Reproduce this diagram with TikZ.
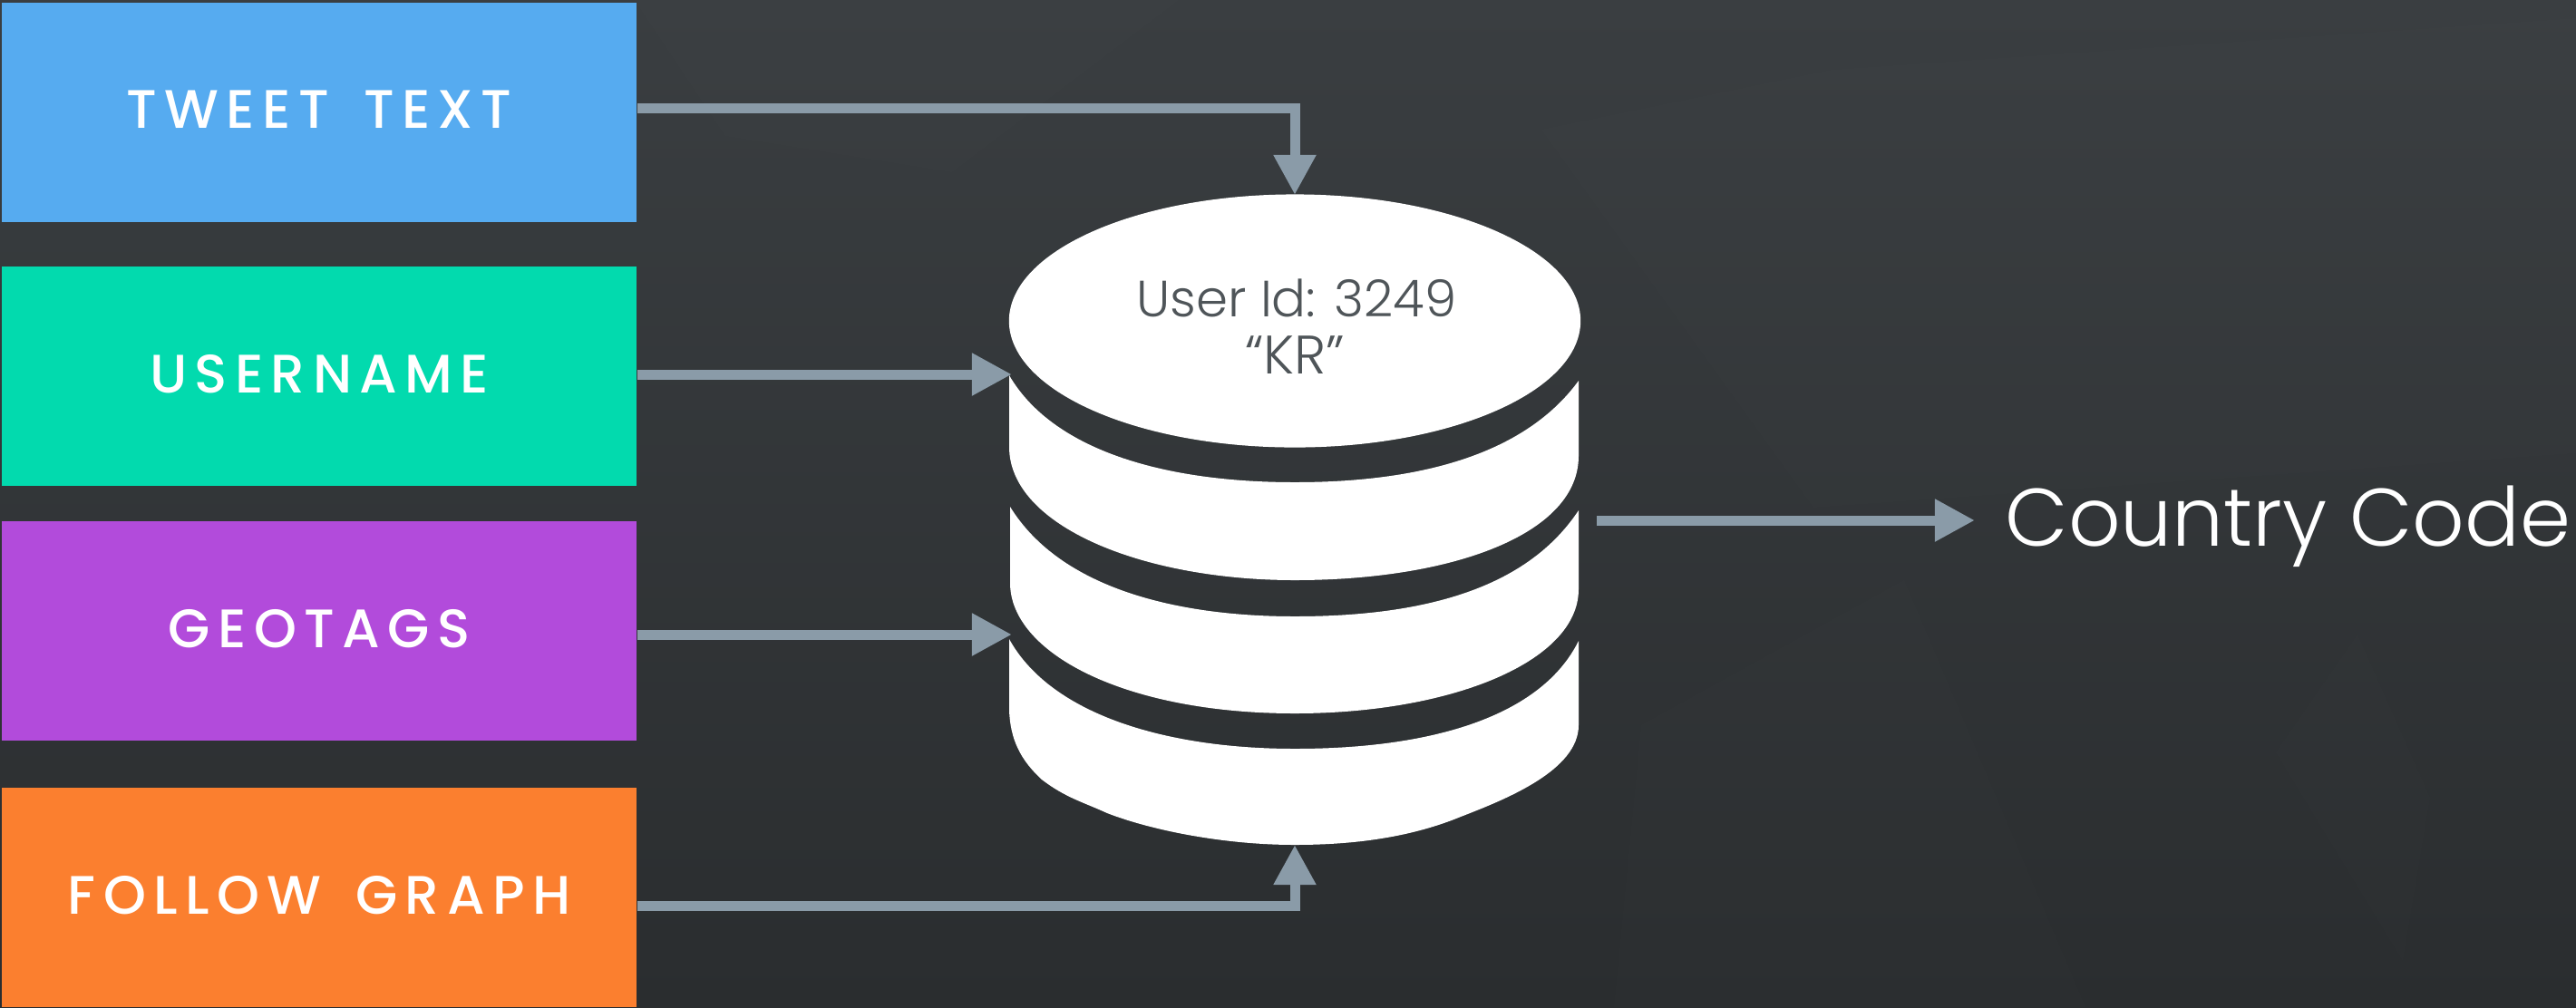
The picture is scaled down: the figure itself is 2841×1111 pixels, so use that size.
\documentclass[tikz,border=0pt]{standalone}
\usepackage{fontspec}
\usetikzlibrary{arrows.meta,shapes.geometric}
\setmainfont{Poppins}
\newfontfamily\thinfont{Poppins Light}
\newfontfamily\capsfont[LetterSpace=14,WordSpace=1.6]{Poppins Medium}
\definecolor{tweetblue}{HTML}{56ABF0}
\definecolor{usergreen}{HTML}{02DAAE}
\definecolor{geopurple}{HTML}{B24BDB}
\definecolor{followorange}{HTML}{FB7F2F}
\definecolor{flowgrey}{HTML}{8A9BA8}
\definecolor{idgrey}{HTML}{4F5559}
\definecolor{slatetop}{HTML}{3A3E41}
\definecolor{slatelow}{HTML}{2A2D2F}
\tikzset{
  source/.style={minimum width=7cm,minimum height=2.42cm,inner sep=0,text=white,text depth=0.06cm,
    font=\capsfont\fontsize{17}{17}\selectfont},
  flow/.style={draw=flowgrey,line width=0.11cm,-{Triangle[length=0.44cm,width=0.44cm,flowgrey]}},
  disk/.style={fill=white,draw=none},
  facet/.style={fill=white,fill opacity=0.008,draw=none}
}
\begin{document}
\begin{tikzpicture}[x=0.01cm,y=-0.01cm]
\useasboundingbox (0,0) rectangle (2841,1111);

% Background
\shade[top color=slatetop,bottom color=slatelow] (0,0) rectangle (2841,1111);
\fill[facet] (1700,143) -- (2020,77) -- (2841,20) -- (2841,500) -- (2000,560) -- cycle;
\fill[facet] (700,0) -- (1300,0) -- (1050,190) -- (800,150) -- cycle;
\fill[facet] (2510,830) -- (2650,1060) -- (2680,880) -- (2600,700) -- cycle;
\fill[facet] (1780,1111) -- (1810,800) -- (2100,640) -- (2300,1111) -- cycle;

% Source boxes
\node[source,fill=tweetblue] (tweet) at (352,124) {TWEET TEXT};
\node[source,fill=usergreen] (username) at (352,415) {USERNAME};
\node[source,fill=geopurple] (geotags) at (352,696) {GEOTAGS};
\node[source,fill=followorange] (follow) at (352,990) {FOLLOW GRAPH};

% Database
\draw[disk] (1113,705) -- (1113,783) .. controls (1114,815) and (1125,838) .. (1149,860)
  .. controls (1175,880) and (1195,885) .. (1221,897)
  .. controls (1270,916) and (1350,932) .. (1428,932)
  .. controls (1500,932) and (1560,922) .. (1611,901)
  .. controls (1660,882) and (1741,850) .. (1741,800) -- (1741,707)
  .. controls (1700,790) and (1580,826) .. (1428,826)
  .. controls (1290,826) and (1160,790) .. (1113,705) -- cycle;
\draw[disk] (1114,559) -- (1114,643) .. controls (1114,720) and (1240,787) .. (1428,787)
  .. controls (1600,787) and (1741,730) .. (1741,650) -- (1741,563)
  .. controls (1690,640) and (1590,680) .. (1428,680)
  .. controls (1300,680) and (1170,650) .. (1114,559) -- cycle;
\draw[disk] (1113,414) -- (1113,493) .. controls (1113,580) and (1260,640) .. (1428,640)
  .. controls (1600,640) and (1741,590) .. (1741,503) -- (1741,420)
  .. controls (1690,490) and (1590,532) .. (1428,532)
  .. controls (1280,532) and (1160,495) .. (1113,414) -- cycle;
\node[disk,ellipse,minimum width=6.3cm,minimum height=2.79cm,inner sep=0] (userdb) at (1428,354) {};
\node[text=idgrey,font=\thinfont\fontsize{16}{19}\selectfont,anchor=base] (userid) at (1430,349) {User Id: 3249};
\node[text=idgrey,font=\thinfont\fontsize{17}{19}\selectfont,anchor=base] (userkr) at (1428,412) {“KR”};

% Connector ends
\coordinate (intweet) at (1428,215);
\coordinate (inname) at (1116,413);
\coordinate (ingeo) at (1116,700);
\coordinate (infollow) at (1428,932);
\coordinate (outdb) at (1761,574);

\node[text=white,font=\thinfont\fontsize{25.6}{30}\selectfont,anchor=base west,inner xsep=0.33cm] (code) at (2178,602) {Country Code};

% Connectors
\draw[flow] ([yshift=0.05cm]tweet.east) -| (intweet);
\draw[flow] (username.east |- inname) -- (inname);
\draw[flow] (geotags.east |- ingeo) -- (ingeo);
\draw[flow] ([yshift=-0.09cm]follow.east) -| (infollow);
\draw[flow] (outdb) -- (code.west |- outdb);

\end{tikzpicture}
\end{document}
